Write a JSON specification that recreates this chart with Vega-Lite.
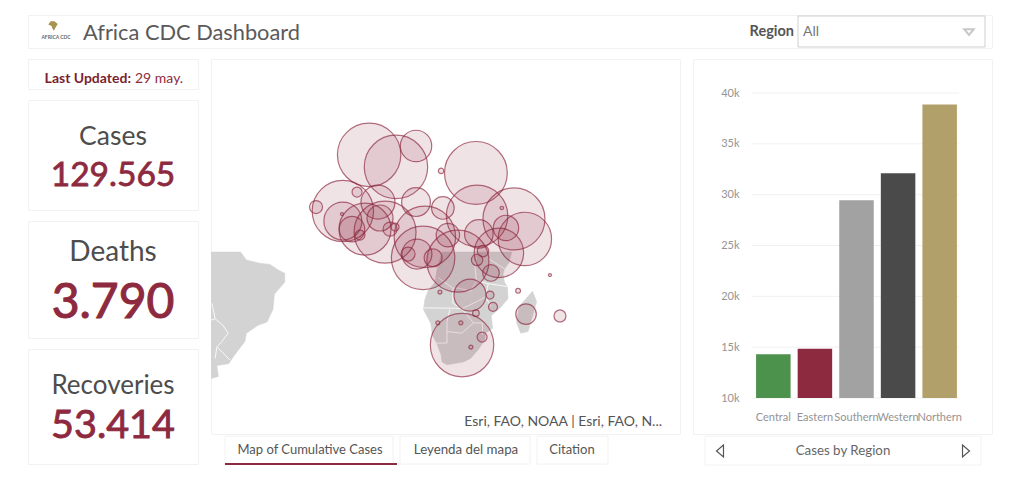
{"$schema":"https://vega.github.io/schema/vega-lite/v6.json","padding":{"left":27,"top":14,"right":0,"bottom":0},"background":"white","spacing":9,"config":{"view":{"stroke":"#f2f2f2"},"text":{"font":"Lato"},"axis":{"labelFont":"Lato"},"concat":{"spacing":9}},"vconcat":[
{"width":964,"height":33,"data":{"values":[{"title":"Africa CDC Dashboard","filter":"Region","selected":"All","logo":"AFRICA CDC"}]},"layer":[
{"mark":{"type":"rect","fill":"white","stroke":"#cfcfcf","strokeWidth":1},"encoding":{"x":{"value":770},"x2":{"value":957},"y":{"value":1},"y2":{"value":32}}},
{"mark":{"type":"point","shape":"M-0.5,-1 L0.3,-1 L1,-0.4 L0.6,0.2 L0.2,1 L-0.1,0.6 L-0.3,0 L-1,-0.3 Z","filled":true,"fill":"#a8934f","opacity":1,"size":90},"encoding":{"x":{"value":25},"y":{"value":11}}},
{"mark":{"type":"text","fontSize":5,"color":"#666","align":"center","baseline":"middle","fontWeight":"bold"},"encoding":{"text":{"field":"logo"},"x":{"value":28},"y":{"value":22}}},
{"mark":{"type":"text","fontSize":21.8,"color":"#5a5a5a","align":"left","baseline":"middle"},"encoding":{"text":{"field":"title"},"x":{"value":55},"y":{"value":18}}},
{"mark":{"type":"text","fontSize":14.5,"fontWeight":"bold","color":"#555","align":"right","baseline":"middle"},"encoding":{"text":{"field":"filter"},"x":{"value":766},"y":{"value":17}}},
{"mark":{"type":"text","fontSize":14,"color":"#777","align":"left","baseline":"middle"},"encoding":{"text":{"field":"selected"},"x":{"value":775},"y":{"value":17}}},
{"mark":{"type":"point","shape":"M-1,-0.6 L1,-0.6 L0,0.6 Z","filled":false,"stroke":"#c8c8c8","opacity":1,"size":90},"encoding":{"x":{"value":941},"y":{"value":17}}}
]},
{"hconcat":[
{"vconcat":[
{"width":170,"height":30,"data":{"values":[{"a":"Last Updated:","b":"29 may."}]},"layer":[
{"mark":{"type":"text","fontSize":14,"fontWeight":"bold","color":"#7b1f2f","align":"right","baseline":"middle"},"encoding":{"text":{"field":"a"},"x":{"value":103},"y":{"value":20}}},
{"mark":{"type":"text","fontSize":14,"color":"#8e2a40","align":"left","baseline":"middle"},"encoding":{"text":{"field":"b"},"x":{"value":107},"y":{"value":20}}}
]},
{"width":170,"height":110,"data":{"values":[{"label":"Cases","total":"129.565"}]},"layer":[
{"mark":{"type":"text","fontSize":26.5,"color":"#4d4d4d","baseline":"middle"},"encoding":{"text":{"field":"label"},"y":{"value":37}}},
{"mark":{"type":"text","fontSize":33.5,"color":"#8e2a40","stroke":"#8e2a40","strokeWidth":0.8,"baseline":"middle"},"encoding":{"text":{"field":"total"},"y":{"value":76}}}
]},
{"width":170,"height":117,"data":{"values":[{"label":"Deaths","total":"3.790"}]},"layer":[
{"mark":{"type":"text","fontSize":28,"color":"#4d4d4d","baseline":"middle"},"encoding":{"text":{"field":"label"},"y":{"value":32}}},
{"mark":{"type":"text","fontSize":48,"color":"#8e2a40","stroke":"#8e2a40","strokeWidth":1.1,"baseline":"middle"},"encoding":{"text":{"field":"total"},"y":{"value":83}}}
]},
{"width":170,"height":115,"data":{"values":[{"label":"Recoveries","total":"53.414"}]},"layer":[
{"mark":{"type":"text","fontSize":26,"color":"#4d4d4d","baseline":"middle"},"encoding":{"text":{"field":"label"},"y":{"value":37}}},
{"mark":{"type":"text","fontSize":39.5,"color":"#8e2a40","stroke":"#8e2a40","strokeWidth":0.9,"baseline":"middle"},"encoding":{"text":{"field":"total"},"y":{"value":77}}}
]}
],"spacing":9},
{"vconcat":[
{"width":469,"height":375,"projection":{"type":"mercator","scale":169,"translate":[177,198]},"layer":[
{"data":{"values":[
{"type":"Feature","properties":{"name":"Africa south"},"geometry":{"type":"Polygon","coordinates":[[[18.3,1.7],[30,1.7],[42,1.7],[41,-2],[39.5,-4],[39,-6],[39.5,-8.5],[40.5,-10],[40.7,-14],[38,-17],[35,-19.5],[35.5,-23.5],[33,-25],[32.8,-27],[31,-29.5],[28,-32.5],[25.5,-33.5],[20,-34.3],[18.3,-33.5],[18,-31.5],[16.5,-28],[15,-25.5],[14.5,-22],[12,-17.5],[12.5,-14.3],[13.6,-11.3],[15.9,-8.6],[16.6,-4.2],[18.3,1.7]]]}},
{"type":"Feature","properties":{"name":"Madagascar"},"geometry":{"type":"Polygon","coordinates":[[[49,-11.5],[50.4,-15],[47.5,-24.5],[45,-25],[43.5,-21.5],[44.5,-16.5],[49,-11.5]]]}},
{"type":"Feature","properties":{"name":"South America south"},"geometry":{"type":"Polygon","coordinates":[[[-80,1.7],[-50,1.7],[-48,-1],[-44,-2],[-40,-2.5],[-37,-4.5],[-35,-5.5],[-35,-8.5],[-38.5,-12.5],[-39,-17.5],[-41,-21.5],[-44,-22.5],[-48,-25],[-48.5,-27.5],[-52,-31.5],[-54,-34],[-58,-34.5],[-57.5,-37.5],[-62,-38.5],[-80,-38.5],[-80,1.7]]]}}
]},"mark":{"type":"geoshape","fill":"#d3d3d3","stroke":"#d3d3d3","strokeWidth":0.5,"clip":true},"encoding":{}},
{"data":{"values":[
{"type":"Feature","properties":{},"geometry":{"type":"LineString","coordinates":[[12,-17],[23,-17.1],[25,-17.3],[29,-21.8]]}},
{"type":"Feature","properties":{},"geometry":{"type":"LineString","coordinates":[[21,-17.5],[20,-21.5],[20,-28],[16.5,-28]]}},
{"type":"Feature","properties":{},"geometry":{"type":"LineString","coordinates":[[20,-24.5],[25,-25],[29,-21.8],[32,-21.8],[32,-25.5]]}},
{"type":"Feature","properties":{},"geometry":{"type":"LineString","coordinates":[[17,-7],[22,-10.5],[24,-10.5],[28,-11.5],[30,-8],[29.5,-3.5],[30,0]]}},
{"type":"Feature","properties":{},"geometry":{"type":"LineString","coordinates":[[22,-10.5],[22,-15.5],[25,-17.3],[30,-15],[33,-13.5]]}},
{"type":"Feature","properties":{},"geometry":{"type":"LineString","coordinates":[[30,-8],[34,-9],[40.5,-10]]}},
{"type":"Feature","properties":{},"geometry":{"type":"LineString","coordinates":[[34,-9],[33,-13.5],[35,-16.5]]}},
{"type":"Feature","properties":{},"geometry":{"type":"LineString","coordinates":[[34,-0.5],[39.5,-4]]}},
{"type":"Feature","properties":{},"geometry":{"type":"LineString","coordinates":[[-59.7,-15.5],[-58.6,-20.5],[-56,-22.5],[-54.2,-25],[-56.3,-27.5],[-58,-29.1],[-58.6,-32.5]]}},
{"type":"Feature","properties":{},"geometry":{"type":"LineString","coordinates":[[-58,-29.1],[-53.5,-33]]}},
{"type":"Feature","properties":{},"geometry":{"type":"LineString","coordinates":[[-58.6,-20.5],[-62,-21.5]]}}
]},"mark":{"type":"geoshape","filled":false,"fill":null,"stroke":"#f8f8f8","strokeWidth":1,"clip":true},"encoding":{}},
{"data":{"values":[
{"country":"Morocco","lon":-6.4,"lat":32.7,"cases":25122},
{"country":"Algeria","lon":2.7,"lat":29.2,"cases":25122},
{"country":"Tunisia","lon":9.5,"lat":35.2,"cases":6162},
{"country":"Egypt","lon":29.8,"lat":27.4,"cases":24649},
{"country":"Libya","lon":18,"lat":28,"cases":182},
{"country":"Mauritania","lon":-15.3,"lat":15.4,"cases":23562},
{"country":"Cabo Verde","lon":-24.4,"lat":16.7,"cases":1056},
{"country":"Western Sahara","lon":-10.5,"lat":21.5,"cases":625},
{"country":"Mali","lon":-3.4,"lat":18.3,"cases":7225},
{"country":"Niger","lon":9.5,"lat":18.3,"cases":5184},
{"country":"Chad","lon":18.6,"lat":16.4,"cases":3192},
{"country":"Sudan","lon":30.2,"lat":13.8,"cases":23562},
{"country":"Ethiopia","lon":42.7,"lat":12.8,"cases":24025},
{"country":"Somalia","lon":46.4,"lat":6.1,"cases":17822},
{"country":"Eritrea","lon":38.6,"lat":16.4,"cases":72},
{"country":"Djibouti","lon":40,"lat":9.8,"cases":4032},
{"country":"South Sudan","lon":30.8,"lat":7.8,"cases":5112},
{"country":"Kenya","lon":37.6,"lat":1.4,"cases":15252},
{"country":"Senegal","lon":-15.3,"lat":12.1,"cases":9025},
{"country":"Guinea-Bissau","lon":-12.2,"lat":9.4,"cases":4032},
{"country":"Gambia","lon":-15.6,"lat":14.4,"cases":56},
{"country":"Sierra Leone","lon":-9.5,"lat":7.4,"cases":625},
{"country":"Guinea","lon":-7.8,"lat":9.4,"cases":16900},
{"country":"Ghana","lon":-1,"lat":8.4,"cases":24025},
{"country":"Burkina Faso","lon":-2.7,"lat":13.1,"cases":4225},
{"country":"Togo","lon":0.7,"lat":9.4,"cases":1225},
{"country":"Benin","lon":2.4,"lat":10.1,"cases":400},
{"country":"Cameroon","lon":11.9,"lat":-0.3,"cases":25122},
{"country":"Nigeria","lon":12.5,"lat":6.8,"cases":23562},
{"country":"Equatorial Guinea","lon":9.8,"lat":1.0,"cases":5625},
{"country":"Sao Tome","lon":6.8,"lat":1.0,"cases":1225},
{"country":"Gabon","lon":15.3,"lat":-0.3,"cases":2025},
{"country":"CAR","lon":20.3,"lat":7.4,"cases":3422},
{"country":"DRC","lon":23.7,"lat":-1.4,"cases":24025},
{"country":"Uganda","lon":32.2,"lat":2.0,"cases":812},
{"country":"Rwanda","lon":30.2,"lat":-1.0,"cases":812},
{"country":"Tanzania","lon":34.9,"lat":-5.4,"cases":1722},
{"country":"Zambia","lon":27.8,"lat":-12.8,"cases":6400},
{"country":"Angola","lon":17.6,"lat":-11.8,"cases":100},
{"country":"Malawi","lon":34.6,"lat":-12.8,"cases":400},
{"country":"Mozambique","lon":35.6,"lat":-16.7,"cases":506},
{"country":"Zimbabwe","lon":29.8,"lat":-18.7,"cases":272},
{"country":"Namibia","lon":16.9,"lat":-21.8,"cases":100},
{"country":"Botswana","lon":24.7,"lat":-21.8,"cases":100},
{"country":"Eswatini","lon":31.9,"lat":-26.2,"cases":625},
{"country":"Lesotho","lon":28.1,"lat":-29.2,"cases":100},
{"country":"South Africa","lon":25.1,"lat":-28.6,"cases":25122},
{"country":"Madagascar","lon":46.8,"lat":-19,"cases":2652},
{"country":"Mauritius","lon":58.3,"lat":-19.6,"cases":900},
{"country":"Comoros","lon":44.1,"lat":-11.4,"cases":144},
{"country":"Seychelles","lon":54.9,"lat":-6.1,"cases":56}
]},"mark":{"type":"circle","fill":"#8e2a40","fillOpacity":0.13,"stroke":"#8e2a40","strokeOpacity":0.68,"strokeWidth":1.2},"encoding":{"longitude":{"field":"lon","type":"quantitative"},"latitude":{"field":"lat","type":"quantitative"},"size":{"field":"cases","type":"quantitative","legend":null,"scale":{"type":"linear","domain":[0,27225],"range":[0,4356]}}}},
{"data":{"values":[{"credit":"Esri, FAO, NOAA | Esri, FAO, N..."}]},"mark":{"type":"text","fontSize":14,"color":"#555","align":"right","baseline":"middle"},"encoding":{"text":{"field":"credit"},"x":{"value":451},"y":{"value":363}}}
]},
{"width":469,"height":29,"view":{"stroke":null},"data":{"values":[{"a":"Map of Cumulative Cases","b":"Leyenda del mapa","c":"Citation"}]},"layer":[
{"mark":{"type":"rect","fill":"white","stroke":"#f2f2f2"},"encoding":{"x":{"value":14},"x2":{"value":182},"y":{"value":0},"y2":{"value":28}}},
{"mark":{"type":"rect","fill":"white","stroke":"#f2f2f2"},"encoding":{"x":{"value":189},"x2":{"value":319},"y":{"value":0},"y2":{"value":28}}},
{"mark":{"type":"rect","fill":"white","stroke":"#f2f2f2"},"encoding":{"x":{"value":326},"x2":{"value":397},"y":{"value":0},"y2":{"value":28}}},
{"mark":{"type":"rule","stroke":"#8e2a40","strokeWidth":2},"encoding":{"x":{"value":14},"x2":{"value":186},"y":{"value":28}}},
{"mark":{"type":"text","fontSize":13,"color":"#555","align":"center","baseline":"middle"},"encoding":{"text":{"field":"a"},"x":{"value":99},"y":{"value":14}}},
{"mark":{"type":"text","fontSize":13.3,"color":"#555","align":"center","baseline":"middle"},"encoding":{"text":{"field":"b"},"x":{"value":255},"y":{"value":14}}},
{"mark":{"type":"text","fontSize":13,"color":"#555","align":"center","baseline":"middle"},"encoding":{"text":{"field":"c"},"x":{"value":361},"y":{"value":14}}}
]}
],"spacing":0},
{"vconcat":[
{"width":299,"height":375,"layer":[
{"data":{"values":[{"tick":10000},{"tick":15000},{"tick":20000},{"tick":25000},{"tick":30000},{"tick":35000},{"tick":40000}]},"mark":{"type":"rule","stroke":"#f0f0f0","strokeWidth":1},"encoding":{"y":{"field":"tick","type":"quantitative","scale":{"domain":[10000,40000],"range":[339,34],"zero":false,"nice":false},"axis":{"title":null,"format":"~s","values":[10000,15000,20000,25000,30000,35000,40000],"grid":false,"domain":false,"ticks":false,"labelColor":"#949494","labelFontSize":11,"labelPadding":0,"offset":-46}},"x":{"value":59},"x2":{"value":266}}},
{"data":{"values":[{"region":"Central","cases":14300},{"region":"Eastern","cases":14850},{"region":"Southern","cases":29450},{"region":"Western","cases":32100},{"region":"Northern","cases":38865}]},"mark":{"type":"bar"},"encoding":{"x":{"field":"region","type":"nominal","sort":null,"scale":{"range":[61,266],"paddingInner":0.17,"paddingOuter":0.05},"axis":{"title":null,"domain":false,"ticks":false,"labelAngle":0,"labelColor":"#949494","labelFontSize":11,"labelOverlap":false,"labelPadding":0,"offset":-17,"labelBaseline":"middle"}},"y":{"field":"cases","type":"quantitative","scale":{"domain":[10000,40000],"range":[339,34],"zero":false,"nice":false},"title":null},"y2":{"datum":10000},"color":{"field":"region","type":"nominal","legend":null,"scale":{"domain":["Central","Eastern","Southern","Western","Northern"],"range":["#4c914c","#8e2a40","#a2a2a2","#4a4a4a","#b2a06b"]}}}}
]},
{"width":299,"height":29,"view":{"stroke":null},"data":{"values":[{"title":"Cases by Region"}]},"layer":[
{"mark":{"type":"rect","fill":"white","stroke":"#f2f2f2"},"encoding":{"x":{"value":12},"x2":{"value":288},"y":{"value":0},"y2":{"value":29}}},
{"mark":{"type":"text","fontSize":13.3,"color":"#666","align":"center","baseline":"middle"},"encoding":{"text":{"field":"title"},"x":{"value":150},"y":{"value":15}}},
{"mark":{"type":"point","shape":"M0.58,-1 L-0.58,0 L0.58,1 Z","filled":false,"stroke":"#555","opacity":1,"strokeWidth":1.2,"size":144},"encoding":{"x":{"value":27},"y":{"value":15}}},
{"mark":{"type":"point","shape":"M-0.58,-1 L0.58,0 L-0.58,1 Z","filled":false,"stroke":"#555","opacity":1,"strokeWidth":1.2,"size":144},"encoding":{"x":{"value":273},"y":{"value":15}}}
]}
],"spacing":0}
],"spacing":11},
{"width":964,"height":3,"data":{"values":[{"footer":""}]},"mark":{"type":"text"},"encoding":{"text":{"field":"footer"}}}
]}
